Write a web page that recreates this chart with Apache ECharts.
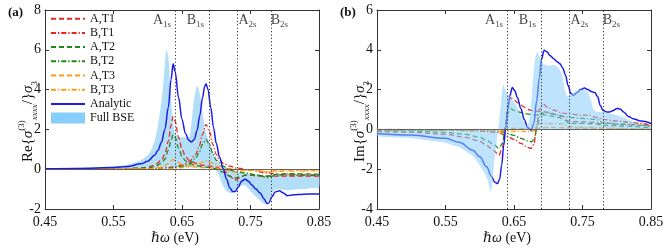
<!DOCTYPE html>
<html><head><meta charset="utf-8">
<script src="https://cdn.jsdelivr.net/npm/echarts@6/dist/echarts.min.js"></script>
<style>html,body{margin:0;padding:0;background:#fff}#c{width:664px;height:249px}</style>
</head><body><div id="c"></div><script>
// ---------- data ----------
const xTickMin = 0.45, xTickMax = 0.85, xTickStep = 0.1;
const transLetter = ['A', 'B', 'A', 'B'];
const transSub = ['1s', '1s', '2s', '2s'];
const transX = [0.637, 0.685, 0.728, 0.775];

// panel (a): real part
const reAnalytic = [[0.45,0.02],[0.50,0.04],[0.55,0.08],[0.57,0.13],[0.59,0.27],[0.60,0.4],[0.61,0.7],[0.615,0.95],[0.62,1.35],[0.625,2.0],[0.63,3.1],[0.634,4.5],[0.637,5.3],[0.64,4.9],[0.645,3.6],[0.65,2.5],[0.655,1.8],[0.66,1.45],[0.664,1.37],[0.668,1.5],[0.672,1.95],[0.676,2.7],[0.68,3.6],[0.683,4.15],[0.685,4.3],[0.688,4.0],[0.692,3.1],[0.696,2.1],[0.70,1.3],[0.705,0.6],[0.71,0.05],[0.715,-0.5],[0.72,-0.95],[0.724,-1.12],[0.728,-1.12],[0.732,-0.9],[0.737,-0.6],[0.742,-0.5],[0.747,-0.6],[0.752,-0.8],[0.758,-1.0],[0.764,-1.2],[0.77,-1.5],[0.774,-1.72],[0.777,-1.68],[0.781,-1.4],[0.786,-1.15],[0.792,-1.08],[0.798,-1.2],[0.804,-1.33],[0.81,-1.3],[0.82,-1.27],[0.835,-1.24],[0.85,-1.24]];
const reBseX  = [0.45,0.50,0.55,0.57,0.59,0.60,0.605,0.61,0.615,0.62,0.624,0.627,0.630,0.633,0.636,0.64,0.645,0.65,0.657,0.66,0.663,0.667,0.672,0.676,0.68,0.684,0.688,0.692,0.696,0.70,0.705,0.71,0.715,0.72,0.725,0.73,0.735,0.74,0.745,0.75,0.755,0.76,0.765,0.77,0.775,0.78,0.785,0.79,0.80,0.81,0.82,0.83,0.84,0.85];
const reBseHi = [0.04,0.07,0.14,0.22,0.45,0.7,0.95,1.4,2.2,3.4,4.8,6.0,5.7,4.2,2.6,1.8,1.6,1.6,1.6,1.55,2.0,3.4,4.2,3.8,2.8,2.0,1.5,1.1,0.8,0.45,0.25,0.15,0.1,0.0,-0.05,-0.1,-0.15,-0.2,-0.22,-0.25,-0.25,-0.28,-0.3,-0.3,-0.3,-0.3,-0.28,-0.28,-0.25,-0.25,-0.25,-0.25,-0.25,-0.25];
const reBseLo = [-0.03,-0.01,0.0,0.0,0.02,0.03,0.05,0.06,0.07,0.08,0.08,0.08,0.08,0.08,0.08,0.08,0.08,0.08,0.08,0.08,0.08,0.08,0.08,0.08,0.08,0.08,0.08,0.07,0.05,-0.05,-0.4,-0.85,-1.1,-1.2,-1.2,-1.05,-0.85,-0.8,-0.9,-1.1,-1.3,-1.45,-1.6,-1.75,-1.65,-1.3,-1.05,-1.0,-1.05,-1.05,-1.0,-1.0,-0.95,-0.95];
const reAT1 = [[0.45,0.0],[0.55,0.02],[0.59,0.06],[0.60,0.1],[0.61,0.2],[0.62,0.45],[0.625,0.75],[0.63,1.4],[0.634,2.2],[0.637,2.65],[0.64,2.4],[0.645,1.6],[0.65,1.0],[0.655,0.65],[0.66,0.45],[0.67,0.3],[0.68,0.2],[0.69,0.15],[0.70,0.1],[0.71,-0.05],[0.72,-0.35],[0.727,-0.55],[0.734,-0.45],[0.742,-0.3],[0.75,-0.3],[0.76,-0.35],[0.775,-0.35],[0.80,-0.35],[0.85,-0.35]];
const reBT1 = [[0.45,0],[0.60,0.02],[0.63,0.08],[0.64,0.12],[0.65,0.2],[0.66,0.35],[0.67,0.75],[0.675,1.15],[0.68,1.75],[0.685,2.25],[0.69,1.9],[0.695,1.25],[0.70,0.75],[0.705,0.45],[0.71,0.3],[0.72,0.15],[0.73,0.05],[0.75,-0.05],[0.775,-0.2],[0.80,-0.3],[0.85,-0.32]];
const reAT2 = [[0.45,0],[0.55,0.01],[0.60,0.06],[0.61,0.12],[0.62,0.3],[0.625,0.5],[0.63,0.95],[0.634,1.45],[0.637,1.75],[0.64,1.6],[0.645,1.05],[0.65,0.65],[0.655,0.42],[0.66,0.3],[0.67,0.2],[0.68,0.12],[0.69,0.08],[0.70,0.02],[0.71,-0.15],[0.72,-0.35],[0.727,-0.45],[0.735,-0.38],[0.745,-0.28],[0.76,-0.3],[0.775,-0.35],[0.79,-0.25],[0.80,-0.22],[0.85,-0.25]];
const reBT2 = [[0.45,0],[0.60,0.02],[0.63,0.05],[0.65,0.15],[0.66,0.25],[0.67,0.55],[0.675,0.85],[0.68,1.25],[0.685,1.5],[0.69,1.25],[0.695,0.8],[0.70,0.45],[0.71,0.15],[0.72,-0.05],[0.73,-0.15],[0.745,-0.2],[0.76,-0.3],[0.775,-0.42],[0.785,-0.32],[0.80,-0.25],[0.82,-0.28],[0.85,-0.3]];
const reAT3 = [[0.45,0],[0.60,0.02],[0.62,0.1],[0.63,0.28],[0.637,0.48],[0.643,0.38],[0.65,0.22],[0.66,0.15],[0.68,0.08],[0.70,0.05],[0.71,0.0],[0.72,-0.1],[0.727,-0.15],[0.74,-0.08],[0.76,-0.05],[0.775,-0.15],[0.79,-0.05],[0.85,-0.05]];
const reBT3 = [[0.45,0],[0.63,0.02],[0.65,0.08],[0.665,0.18],[0.675,0.3],[0.685,0.42],[0.695,0.3],[0.705,0.15],[0.715,0.05],[0.73,-0.02],[0.755,-0.05],[0.775,-0.12],[0.80,-0.1],[0.85,-0.08]];

// panel (b): imaginary part
const imAnalytic = [[0.45,-0.2],[0.50,-0.28],[0.55,-0.45],[0.57,-0.65],[0.59,-1.05],[0.60,-1.38],[0.61,-1.88],[0.617,-2.35],[0.622,-2.65],[0.626,-2.72],[0.629,-2.5],[0.632,-1.8],[0.635,-0.8],[0.638,0.1],[0.641,1.0],[0.644,1.7],[0.6475,2.1],[0.651,1.95],[0.655,1.6],[0.66,1.05],[0.665,0.5],[0.67,0.1],[0.675,-0.04],[0.679,0.3],[0.683,1.4],[0.687,2.6],[0.69,3.5],[0.694,3.98],[0.698,3.9],[0.703,3.7],[0.708,3.55],[0.713,3.4],[0.717,3.3],[0.721,3.1],[0.725,2.75],[0.729,2.2],[0.733,1.8],[0.737,1.72],[0.742,1.85],[0.747,2.0],[0.753,2.08],[0.758,2.0],[0.763,1.9],[0.768,1.85],[0.772,1.65],[0.776,1.2],[0.78,0.95],[0.785,0.88],[0.79,0.88],[0.795,0.95],[0.80,1.05],[0.805,1.02],[0.81,0.88],[0.817,0.65],[0.825,0.52],[0.835,0.42],[0.85,0.3]];
const imBseX  = [0.45,0.50,0.55,0.57,0.59,0.60,0.61,0.6165,0.62,0.624,0.627,0.631,0.634,0.637,0.64,0.645,0.65,0.655,0.66,0.665,0.67,0.674,0.678,0.681,0.684,0.688,0.693,0.70,0.708,0.715,0.72,0.724,0.728,0.735,0.742,0.75,0.757,0.762,0.766,0.77,0.78,0.79,0.80,0.81,0.82,0.83,0.84,0.85];
const imBseHi = [0,0,0,0,0,0,0,0,0,0,0,1.35,2.28,2.0,1.8,1.6,1.4,1.1,0.7,0.35,0.15,0.9,2.6,3.6,3.9,3.6,3.3,3.2,3.25,3.1,2.8,2.0,1.65,1.8,1.95,2.0,1.9,1.5,1.0,0.9,0.85,0.8,0.72,0.6,0.45,0.3,0.25,0.2];
const imBseLo = [-0.35,-0.45,-0.68,-0.9,-1.35,-1.8,-2.4,-3.13,-2.05,-0.8,0,0,0,0,0,0,0,0,0,0,0,0,0,0,0,0,0,0,0,0,0,0,0,0,0,0,0,0,0,0,0,0,0,0,0,0,0,0];
const imAT1 = [[0.45,-0.1],[0.50,-0.14],[0.55,-0.25],[0.58,-0.4],[0.60,-0.6],[0.61,-0.8],[0.62,-1.05],[0.628,-1.3],[0.633,-0.9],[0.637,0.1],[0.641,1.2],[0.645,1.58],[0.65,1.5],[0.655,1.35],[0.66,1.22],[0.665,1.12],[0.67,1.0],[0.68,0.92],[0.69,0.9],[0.70,0.85],[0.72,0.65],[0.73,0.4],[0.75,0.38],[0.77,0.35],[0.775,0.28],[0.79,0.3],[0.80,0.25],[0.85,0.18]];
const imBT1 = [[0.45,-0.02],[0.55,-0.04],[0.60,-0.08],[0.625,-0.15],[0.635,-0.25],[0.64,-0.35],[0.65,-0.5],[0.66,-0.7],[0.67,-0.9],[0.675,-0.95],[0.679,-0.75],[0.683,0.2],[0.687,1.0],[0.692,1.27],[0.70,1.1],[0.71,0.95],[0.72,0.82],[0.73,0.78],[0.745,0.72],[0.76,0.72],[0.77,0.6],[0.78,0.5],[0.80,0.42],[0.82,0.35],[0.85,0.22]];
const imAT2 = [[0.45,-0.05],[0.50,-0.08],[0.55,-0.15],[0.58,-0.25],[0.60,-0.4],[0.61,-0.55],[0.62,-0.75],[0.628,-0.95],[0.633,-0.7],[0.637,0.0],[0.641,0.8],[0.645,1.05],[0.65,0.95],[0.66,0.85],[0.67,0.78],[0.68,0.72],[0.69,0.75],[0.70,0.7],[0.715,0.6],[0.725,0.45],[0.73,0.3],[0.75,0.3],[0.77,0.28],[0.78,0.2],[0.80,0.18],[0.85,0.08]];
const imBT2 = [[0.45,-0.02],[0.60,-0.05],[0.63,-0.1],[0.64,-0.2],[0.65,-0.3],[0.66,-0.45],[0.67,-0.58],[0.676,-0.62],[0.68,-0.45],[0.684,0.2],[0.688,0.75],[0.695,0.85],[0.71,0.75],[0.73,0.6],[0.75,0.55],[0.77,0.5],[0.78,0.35],[0.80,0.28],[0.82,0.25],[0.85,0.15]];
const imAT3 = [[0.45,-0.02],[0.55,-0.03],[0.60,-0.05],[0.625,-0.1],[0.635,-0.15],[0.64,0.05],[0.66,0.05],[0.68,0.05],[0.70,0.1],[0.73,0.08],[0.76,0.05],[0.80,0.03],[0.85,0.0]];
const imBT3 = [[0.45,0.0],[0.60,-0.02],[0.63,-0.05],[0.64,-0.08],[0.66,-0.1],[0.675,-0.12],[0.68,-0.05],[0.685,0.25],[0.69,0.3],[0.72,0.28],[0.73,0.15],[0.75,0.1],[0.78,0.08],[0.80,0.05],[0.85,0.02]];

// ---------- styling ----------
const SERIF = "'Liberation Serif','DejaVu Serif',serif";
const RED = '#ec2424', GREEN = '#1b8a1b', ORANGE = '#ff9c14', BLUE = '#1c1ce8';
const DASH = [5, 3], DASHDOT = [5, 2, 1.3, 2];
const AXC = '#333';

function lineS(name, data, ax, color, dash, width, z) {
  return { type: 'line', name, data, xAxisIndex: ax, yAxisIndex: ax, symbol: 'none',
    smooth: 0.35, smoothMonotone: 'x', z,
    lineStyle: { color, width, type: dash }, itemStyle: { color } };
}
function bandSeries(xs, lo, hi, ax, color, z) {
  return { type: 'custom', name: 'Full BSE', xAxisIndex: ax, yAxisIndex: ax, z, silent: true,
    data: [[xs[0], lo[0]]], itemStyle: { color: '#87cefa' },
    renderItem: (params, api) => {
      const pts = [];
      for (let i = 0; i < xs.length; i++) pts.push(api.coord([xs[i], hi[i]]));
      for (let i = xs.length - 1; i >= 0; i--) pts.push(api.coord([xs[i], lo[i]]));
      return { type: 'polygon', shape: { points: pts, smooth: 0.15 }, style: { fill: color, stroke: null } };
    } };
}
function markerSeries(ax, labelY) {
  return { type: 'scatter', xAxisIndex: ax, yAxisIndex: ax, symbolSize: 0, silent: true, z: 5,
    data: transX.map((x, i) => ({ value: [x, labelY],
      label: { show: true, position: i < 2 ? 'left' : 'right', distance: i < 2 ? 2 : 3,
        formatter: '{m|' + transLetter[i] + '}{s|' + transSub[i] + '}',
        rich: { m: { fontFamily: SERIF, fontSize: 14, color: '#111', lineHeight: 18 },
                s: { fontFamily: SERIF, fontSize: 9, color: '#111', verticalAlign: 'bottom', lineHeight: 12 } } } })),
    markLine: { silent: true, symbol: ['none', 'none'], label: { show: false }, animation: false,
      data: transX.map(x => ({ xAxis: x, lineStyle: { color: '#333', type: [1.2, 2.2], width: 1 } }))
        .concat([{ yAxis: 0, lineStyle: { color: '#555', type: 'solid', width: 0.9 } }]) } };
}
function xAx(grid, top) {
  return { type: 'value', gridIndex: grid, position: top ? 'top' : 'bottom', min: xTickMin, max: xTickMax, interval: xTickStep,
    axisLine: { show: true, onZero: false, lineStyle: { color: AXC, width: 1 } },
    axisTick: { show: true, inside: true, length: 4, lineStyle: { color: AXC } },
    axisLabel: { show: !top, margin: 6, color: '#111', fontFamily: SERIF, fontSize: 14, formatter: v => v.toFixed(2) },
    splitLine: { show: false },
    name: top ? '' : '{i|ℏω} (eV)', nameLocation: 'middle', nameGap: 22, nameMoveOverlap: false,
    nameTextStyle: { fontFamily: SERIF, fontSize: 14, color: '#111', padding: [0, 14, 0, 0],
      rich: { i: { fontFamily: SERIF, fontSize: 14, fontStyle: 'italic', color: '#111' } } } };
}
function yAx(grid, right, min, max, name) {
  return { type: 'value', gridIndex: grid, position: right ? 'right' : 'left', min, max, interval: 2,
    axisLine: { show: true, onZero: false, lineStyle: { color: AXC, width: 1 } },
    axisTick: { show: true, inside: true, length: 4, lineStyle: { color: AXC } },
    axisLabel: { show: !right, margin: 4, color: '#111', fontFamily: SERIF, fontSize: 14 },
    splitLine: { show: false },
    name: right ? '' : name, nameLocation: 'middle', nameRotate: 90, nameGap: 6, nameMoveOverlap: false,
    nameTextStyle: { fontFamily: SERIF, fontSize: 15, color: '#111', lineHeight: 22, padding: [0, 24, 0, 0],
      rich: { r: { fontFamily: SERIF, fontSize: 15, color: '#111', lineHeight: 22 },
              si: { fontFamily: SERIF, fontSize: 15, fontStyle: 'italic', color: '#111', lineHeight: 22 },
              sp: { fontFamily: SERIF, fontSize: 9, color: '#111', verticalAlign: 'top', lineHeight: 10 },
              sb: { fontFamily: SERIF, fontSize: 9, fontStyle: 'italic', color: '#111', verticalAlign: 'bottom', lineHeight: 10 },
              sn: { fontFamily: SERIF, fontSize: 9, color: '#111', verticalAlign: 'bottom', lineHeight: 10 } } } };
}

const FILL_A = '#b3def8';
const FILL_B = 'rgba(135,206,250,0.55)';

const series = [
  bandSeries(reBseX, reBseLo, reBseHi, 0, FILL_A, 1),
  lineS('A,T1', reAT1, 0, RED, DASH, 1.3, 2),
  lineS('B,T1', reBT1, 0, RED, DASHDOT, 1.3, 2),
  lineS('A,T2', reAT2, 0, GREEN, DASH, 1.3, 2),
  lineS('B,T2', reBT2, 0, GREEN, DASHDOT, 1.3, 2),
  lineS('A,T3', reAT3, 0, ORANGE, DASH, 1.3, 2),
  lineS('B,T3', reBT3, 0, ORANGE, DASHDOT, 1.3, 2),
  lineS('Analytic', reAnalytic, 0, BLUE, 'solid', 1.5, 3),
  markerSeries(0, 7.5),
  lineS('A,T1', imAT1, 2, RED, DASH, 1.3, 2),
  lineS('B,T1', imBT1, 2, RED, DASHDOT, 1.3, 2),
  lineS('A,T2', imAT2, 2, GREEN, DASH, 1.3, 2),
  lineS('B,T2', imBT2, 2, GREEN, DASHDOT, 1.3, 2),
  lineS('A,T3', imAT3, 2, ORANGE, DASH, 1.3, 2),
  lineS('B,T3', imBT3, 2, ORANGE, DASHDOT, 1.3, 2),
  lineS('Analytic', imAnalytic, 2, BLUE, 'solid', 1.5, 2),
  bandSeries(imBseX, imBseLo, imBseHi, 2, FILL_B, 4),
  markerSeries(2, 5.5)
];

const chart = echarts.init(document.getElementById('c'), null, { renderer: 'canvas' });
chart.setOption({
  animation: false,
  backgroundColor: '#fff',
  title: [
    { text: '(a)', left: 8, top: 6, padding: 0, textStyle: { fontFamily: SERIF, fontSize: 13, fontWeight: 'bold', color: '#111' } },
    { text: '(b)', left: 340, top: 6, padding: 0, textStyle: { fontFamily: SERIF, fontSize: 13, fontWeight: 'bold', color: '#111' } }
  ],
  grid: [
    { left: 45, top: 10, width: 274, height: 199, outerBoundsMode: 'none' },
    { left: 377, top: 10, width: 274, height: 199, outerBoundsMode: 'none' }
  ],
  xAxis: [xAx(0, false), xAx(0, true), xAx(1, false), xAx(1, true)],
  yAxis: [
    yAx(0, false, -2, 8, '{r|Re{}{si|σ}{sp|(3)}{sb|xxxx}{r|}/}{si|σ}{sn|3}'),
    yAx(0, true, -2, 8, ''),
    yAx(1, false, -4, 6, '{r|Im{}{si|σ}{sp|(3)}{sb|xxxx}{r|}/}{si|σ}{sn|3}'),
    yAx(1, true, -4, 6, '')
  ],
  legend: {
    orient: 'vertical', left: 50, top: 11.6, padding: 0, itemGap: 0,
    itemWidth: 34, itemHeight: 11, selectedMode: false,
    textStyle: { fontFamily: SERIF, fontSize: 12, color: '#111', lineHeight: 14.2 },
    itemStyle: { opacity: 0 },
    data: ['A,T1', 'B,T1', 'A,T2', 'B,T2', 'A,T3', 'B,T3', 'Analytic',
      { name: 'Full BSE', icon: 'rect', itemStyle: { color: '#87cefa', opacity: 1 } }]
  },
  series
});
</script></body></html>
